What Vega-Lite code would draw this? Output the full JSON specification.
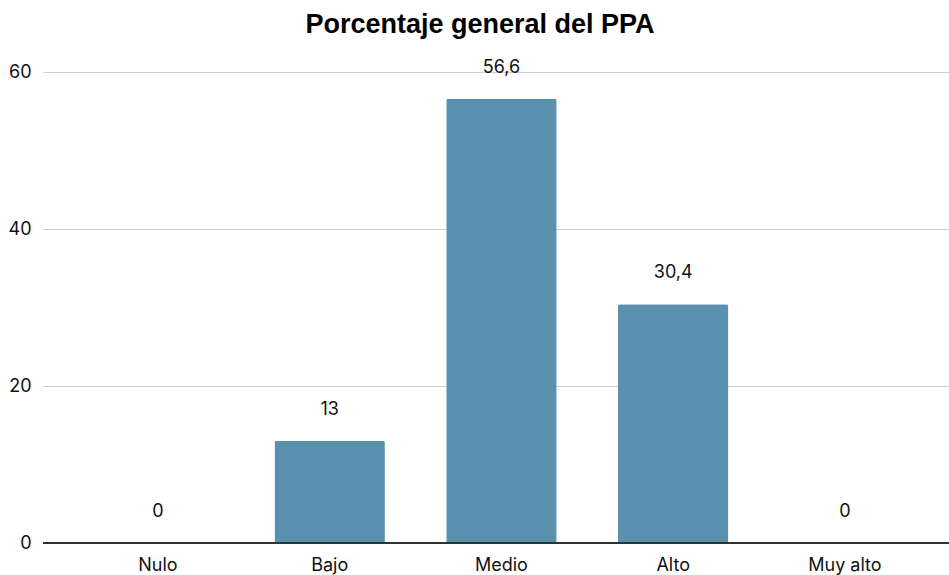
{
  "$schema": "https://vega.github.io/schema/vega-lite/v6.json",
  "width": 906,
  "height": 471,
  "autosize": {"type": "none"},
  "padding": {"left": 43, "top": 72, "right": 0, "bottom": 32},
  "background": "white",
  "config": {
    "view": {"stroke": null},
    "font": "Inter",
    "locale": {"number": {"decimal": ",", "thousands": ".", "grouping": [3], "currency": ["", " €"]}}
  },
  "title": {
    "text": "Porcentaje general del PPA",
    "font": "Liberation Sans",
    "fontSize": 27,
    "fontWeight": "bold",
    "color": "#000000",
    "anchor": "middle",
    "baseline": "alphabetic",
    "dx": -16,
    "offset": -1
  },
  "data": {
    "values": [
      {"nivel": "Nulo", "porcentaje": 0},
      {"nivel": "Bajo", "porcentaje": 13},
      {"nivel": "Medio", "porcentaje": 56.6},
      {"nivel": "Alto", "porcentaje": 30.4},
      {"nivel": "Muy alto", "porcentaje": 0}
    ]
  },
  "encoding": {
    "x": {
      "field": "nivel",
      "type": "nominal",
      "sort": null,
      "scale": {"paddingInner": 0.357, "paddingOuter": 0.316, "align": 0.55},
      "axis": {
        "title": null,
        "labelAngle": 0,
        "labelFont": "Inter",
        "labelFontSize": 18,
        "labelColor": "#111111",
        "labelPadding": 13,
        "ticks": false,
        "domain": false,
        "grid": false
      }
    },
    "y": {
      "field": "porcentaje",
      "type": "quantitative",
      "scale": {"domain": [0, 60], "nice": false},
      "axis": {
        "title": null,
        "values": [0, 20, 40, 60],
        "labelFont": "Inter",
        "labelFontSize": 18,
        "labelColor": "#111111",
        "labelPadding": 12,
        "ticks": false,
        "domain": false,
        "grid": true,
        "gridColor": "#cccccc",
        "gridWidth": 1
      }
    }
  },
  "layer": [
    {
      "mark": {"type": "bar", "color": "#5990ae", "cornerRadiusTopLeft": 2, "cornerRadiusTopRight": 2}
    },
    {
      "mark": {"type": "rule", "color": "#333333", "strokeWidth": 1.5},
      "encoding": {"y": {"datum": 0}, "x": null}
    },
    {
      "mark": {"type": "text", "font": "Inter", "fontSize": 18, "color": "#111111", "baseline": "alphabetic", "dy": -26},
      "encoding": {"text": {"field": "porcentaje", "type": "quantitative", "format": ",.4~r"}}
    }
  ]
}
